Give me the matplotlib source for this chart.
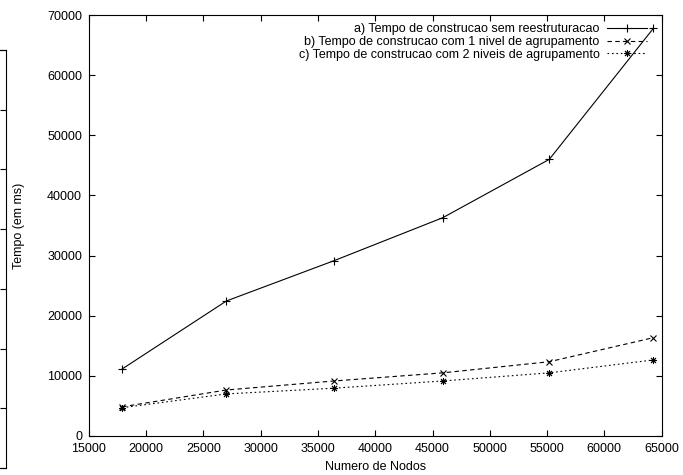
import matplotlib
matplotlib.use("Agg")
import matplotlib.pyplot as plt

plt.rcParams['font.family'] = ['Liberation Sans', 'DejaVu Sans']
plt.rcParams['font.size'] = 9

# numero de nodos
nodos = [17900, 27000, 36400, 45900, 55200, 64300]

# tempos em ms
tempo_sem = [11150, 22450, 29150, 36300, 46000, 67800]
tempo_1nivel = [4850, 7650, 9150, 10500, 12350, 16350]
tempo_2niveis = [4700, 7000, 7950, 9150, 10500, 12650]

labels = ["a) Tempo de construcao sem reestruturacao",
          "b) Tempo de construcao com 1 nivel de agrupamento",
          "c) Tempo de construcao com 2 niveis de agrupamento"]

xticks = list(range(15000, 65001, 5000))
yticks = list(range(0, 70001, 10000))

W, H = 683, 475
fig = plt.figure(figsize=(W / 100, H / 100), dpi=100)

# pedaco do grafico vizinho que aparece cortado na borda esquerda
axl = fig.add_axes([-0.5, (H - 468) / H, 0.5 + 6 / W, (468 - 50) / H])
axl.set_xlim(0, 1)
axl.set_ylim(0, 70000)
axl.set_yticks(yticks)
axl.set_xticks([])
axl.tick_params(axis='y', direction='in', length=4, width=0.8,
                left=False, right=True, labelleft=False)
for s in axl.spines.values():
    s.set_linewidth(0.8)

ax = fig.add_axes([89 / W, (H - 436) / H, (661.5 - 89) / W, (436 - 15) / H])

ax.plot(nodos, tempo_sem, color='black', lw=0.8, marker='+', ms=6,
        mew=0.8, label=labels[0])
ax.plot(nodos, tempo_1nivel, color='black', lw=0.8, ls=(0, (4, 3)),
        marker='x', ms=5, mew=0.8, label=labels[1])
ax.plot(nodos, tempo_2niveis, color='black', lw=0.8, ls=(0, (1.5, 2.5)),
        marker=(8, 2, 0), ms=5, mew=0.7, label=labels[2])

ax.set_xlim(15000, 65000)
ax.set_ylim(0, 70000)
ax.set_xticks(xticks)
ax.set_yticks(yticks)
ax.tick_params(direction='in', length=4, width=0.8, top=True, right=True)
ax.tick_params(axis='y', pad=5)
ax.tick_params(axis='x', pad=5)
for s in ax.spines.values():
    s.set_linewidth(0.8)

ax.set_xlabel("Numero de Nodos", labelpad=4)
ax.set_ylabel("Tempo (em ms)", labelpad=16)

ax.legend(loc='upper right', bbox_to_anchor=(0.9747, 0.980), frameon=False,
          markerfirst=False, handlelength=3.2, handletextpad=0.6,
          labelspacing=0.05, borderaxespad=0, borderpad=0)

fig.savefig("out.png", dpi=100)
